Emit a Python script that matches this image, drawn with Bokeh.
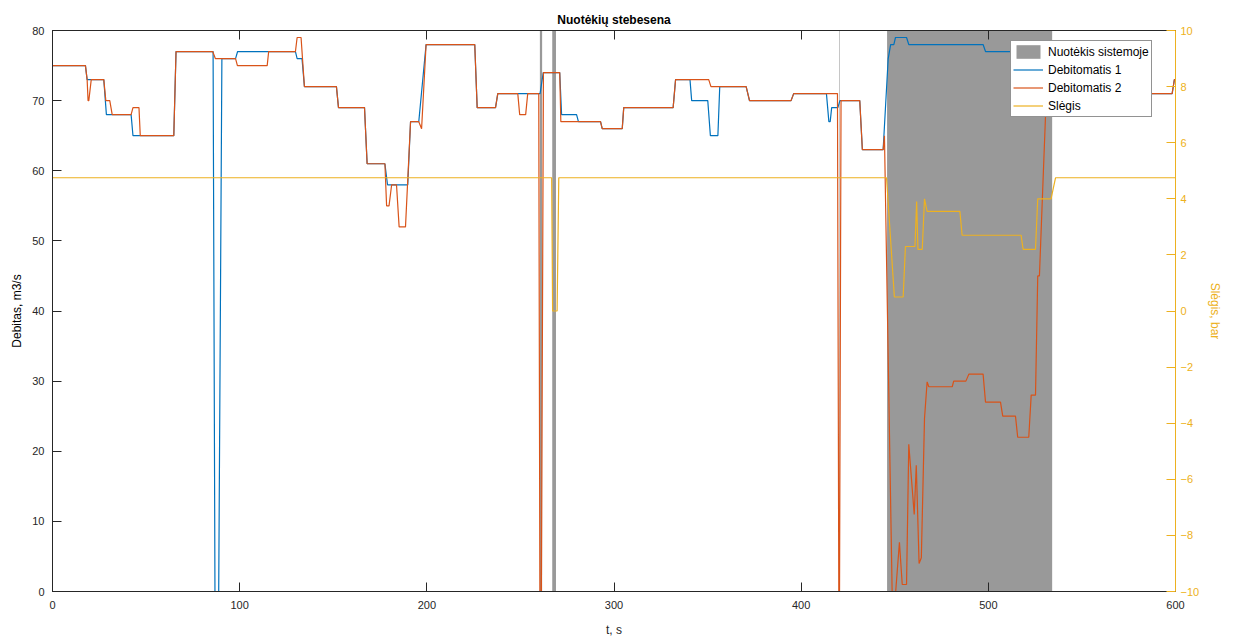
from bokeh.plotting import figure
from bokeh.models import (Range1d, LinearAxis, FixedTicker, Legend, LegendItem,
                          ColumnDataSource)
from bokeh.embed import file_html
from bokeh.resources import INLINE

# ---------------- data ----------------
# Debitomatis 1 (blue) : time [s], flow [m3/s]
t_q1 = [0, 17.6, 18.5, 27.4, 28.8, 42, 43, 64.8, 66, 85.8, 86.8, 88.8, 90.5, 97.8,
        98.9, 129.8, 130.7, 133.3, 134.6, 151.7, 152.8, 166.7, 168.1, 177.6, 179,
        189.8, 191.3, 195.7, 199.6, 225.6, 226.9, 236.7, 237.9, 260.5, 262.2, 271,
        272, 280, 281, 292.8, 293.7, 304.4, 305.2, 331.6, 332.9, 340.6, 341.5,
        350.1, 351.5, 355.5, 356.5, 370.6, 372.4, 394.6, 396, 413.5, 414.8, 415.5,
        416.3, 419.6, 420.7, 431.3, 432.7, 443.8, 446.5, 447.8, 449.5, 450.4,
        456.3, 457.5, 497.2, 498.5, 545, 560, 565, 598.2, 599.4, 600]
q1 = [75, 75, 73, 73, 68, 68, 65, 65, 77, 77, 0, 0, 76, 76,
      77, 77, 76, 76, 72, 72, 69, 69, 61, 61, 58,
      58, 67, 67, 78, 78, 69, 69, 71, 71, 74, 74,
      68, 68, 67, 67, 66, 66, 69, 69, 73, 73, 70,
      70, 65, 65, 72, 72, 70, 70, 71, 71, 67, 67,
      69, 69, 70, 70, 63, 63, 76, 78, 78, 79,
      79, 78, 78, 77, 77, 74, 71, 71, 73, 73]

# Debitomatis 2 (orange)
t_q2 = [0, 17.6, 18.5, 19.0, 19.4, 20.7, 27.4, 28.5, 30.6, 31.9, 42, 43, 46.2,
        46.9, 64.8, 66, 85.6, 87, 97.8, 98.8, 114.7, 115.5, 129.8, 130.7, 132.8,
        134.6, 151.7, 152.8, 166.7, 168.1, 177.6, 178.5, 179.8, 181.2, 183.8,
        185.2, 188.6, 191.3, 195.7, 197.2, 199.6, 225.6, 226.9, 236.7, 237.9,
        248.6, 249.6, 252.8, 253.9, 259.8, 260.4, 261.2, 262.3, 271, 271.6,
        292.8, 293.7, 304.4, 305.2, 331.6, 332.9, 350.6, 351.8, 370.6, 372.4,
        394.6, 396, 419.4, 420.1, 420.5, 421.3, 431.3, 432.7, 443.8, 444.5,
        448.6, 450.5, 452.5, 454.0, 456.3, 457.5, 460.4, 461.5, 463.0, 464.2,
        465.9, 467.3, 468.2, 480.7, 481.5, 488, 489.6, 497.2, 498.5, 506.5,
        507.7, 514.5, 515.7, 521.6, 522.9, 525.2, 526.4, 527.3, 532, 540, 545,
        560, 565, 598.2, 599.4, 600]
q2 = [75, 75, 73, 70, 70, 73, 73, 70, 70, 68, 68, 69, 69,
      65, 65, 77, 77, 76, 76, 75, 75, 77, 77, 79, 79,
      72, 72, 69, 69, 61, 61, 55, 55, 58, 58,
      52, 52, 67, 67, 66, 78, 78, 69, 69, 71,
      71, 68, 68, 71, 71, 0, 0, 74, 74, 67,
      67, 66, 66, 69, 69, 73, 73, 72, 72, 70,
      70, 71, 71, 0, 0, 70, 70, 63, 63, 65,
      0, 0, 7, 1, 1, 21, 11, 18, 4, 4.8,
      24.7, 29.9, 29.2, 29.2, 30, 30, 31, 31, 27, 27,
      25, 25, 22, 22, 28, 28, 45, 45, 78, 78, 77,
      74, 71, 71, 73, 73]

# Slėgis (yellow) : time [s], pressure [bar]
t_p = [0, 266.7, 267.2, 269.6, 270.5, 445.6, 449.8, 454.5, 455.7, 460.8, 461.7,
       462.4, 464.7, 465.9, 467.3, 484.8, 486, 517.5, 518.6, 525.2, 526.4,
       533.5, 535.9, 600]
p_bar = [4.75, 4.75, 0, 0, 4.75, 4.75, 0.5, 0.5, 2.3, 2.3, 3.9,
         2.2, 2.2, 4.0, 3.55, 3.55, 2.7, 2.7, 2.2, 2.2, 4.0,
         4.0, 4.75, 4.75]

# Nuotėkis sistemoje (leak indicator intervals)
leak_start = [260.4, 267.0, 420.4, 445.9]
leak_end = [261.6, 269.0, 420.7, 534.1]
leak_level = [80, 80, 80, 80]

x_ticks = [0, 100, 200, 300, 400, 500, 600]
y_ticks = [0, 10, 20, 30, 40, 50, 60, 70, 80]
p_ticks = [-10, -8, -6, -4, -2, 0, 2, 4, 6, 8, 10]

# ---------------- styling ----------------
FONT = "Liberation Sans"
DARK = "#262626"
BLUE = "#0072BD"
ORANGE = "#D95319"
YELLOW = "#EDB120"
GRAY = "#999999"

p = figure(width=1238, height=639, output_backend="svg", toolbar_location=None,
           x_range=Range1d(0, 600), y_range=Range1d(0, 80),
           title="Nuotėkių stebesena")
p.min_border_left = 52
p.min_border_right = 63
p.min_border_top = 30
p.min_border_bottom = 47
p.xgrid.visible = False
p.ygrid.visible = False
p.outline_line_color = DARK
p.background_fill_color = "white"
p.border_fill_color = "white"

p.title.align = "center"
p.title.text_font = FONT
p.title.text_font_size = "12px"
p.title.text_font_style = "bold"
p.title.text_color = "#000000"
p.title.standoff = 7

p.extra_y_ranges = {"p": Range1d(-10, 10)}

leak_src = ColumnDataSource(dict(left=leak_start, right=leak_end,
                                 top=leak_level, bottom=[0] * len(leak_level)))
r_leak = p.quad(left="left", right="right", top="top", bottom="bottom",
                source=leak_src, fill_color=GRAY, line_color=None)
r_q1 = p.line(t_q1, q1, line_color=BLUE, line_width=1.2)
r_q2 = p.line(t_q2, q2, line_color=ORANGE, line_width=1.2)
r_p = p.line(t_p, p_bar, line_color=YELLOW, line_width=1.2, y_range_name="p")


def style_axis(ax, color, ticks):
    ax.ticker = FixedTicker(ticks=ticks)
    ax.minor_tick_line_color = None
    ax.major_tick_in = 9
    ax.major_tick_out = 0
    ax.axis_line_color = color
    ax.major_tick_line_color = color
    ax.major_label_text_color = color
    ax.major_label_text_font = FONT
    ax.major_label_text_font_size = "11px"
    ax.axis_label_text_font = FONT
    ax.axis_label_text_font_size = "12px"
    ax.axis_label_text_font_style = "normal"
    ax.axis_label_text_color = color


xa = p.xaxis[0]
style_axis(xa, DARK, x_ticks)
xa.axis_label = "t, s"
xa.major_label_standoff = 9
xa.axis_label_standoff = 11

ya = p.yaxis[0]
style_axis(ya, DARK, y_ticks)
ya.axis_label = "Debitas, m3/s"
ya.major_label_standoff = 8
ya.axis_label_standoff = 5
ya.axis_label_text_color = "#000000"

ra = LinearAxis(y_range_name="p", axis_label="Slėgis, bar")
style_axis(ra, YELLOW, p_ticks)
ra.major_label_standoff = 5
ra.axis_label_standoff = 6
ra.axis_label_orientation = "vertical"
p.add_layout(ra, "right")

ta = LinearAxis()
style_axis(ta, DARK, x_ticks)
ta.major_label_overrides = {t: "" for t in x_ticks}
ta.major_label_standoff = 0
p.add_layout(ta, "above")

legend = Legend(items=[
    LegendItem(label="Nuotėkis sistemoje", renderers=[r_leak]),
    LegendItem(label="Debitomatis 1", renderers=[r_q1]),
    LegendItem(label="Debitomatis 2", renderers=[r_q2]),
    LegendItem(label="Slėgis", renderers=[r_p]),
])
legend.location = (958, 474)
legend.margin = 0
legend.padding = 2
legend.spacing = 1
legend.glyph_width = 30
legend.glyph_height = 17
legend.label_height = 17
legend.label_standoff = 5
legend.label_text_font = FONT
legend.label_text_font_size = "12px"
legend.label_text_color = "#000000"
legend.border_line_color = DARK
legend.border_line_width = 1
legend.background_fill_color = "white"
legend.background_fill_alpha = 1.0
p.add_layout(legend, "center")

open("out.html", "w").write(file_html(p, INLINE))
